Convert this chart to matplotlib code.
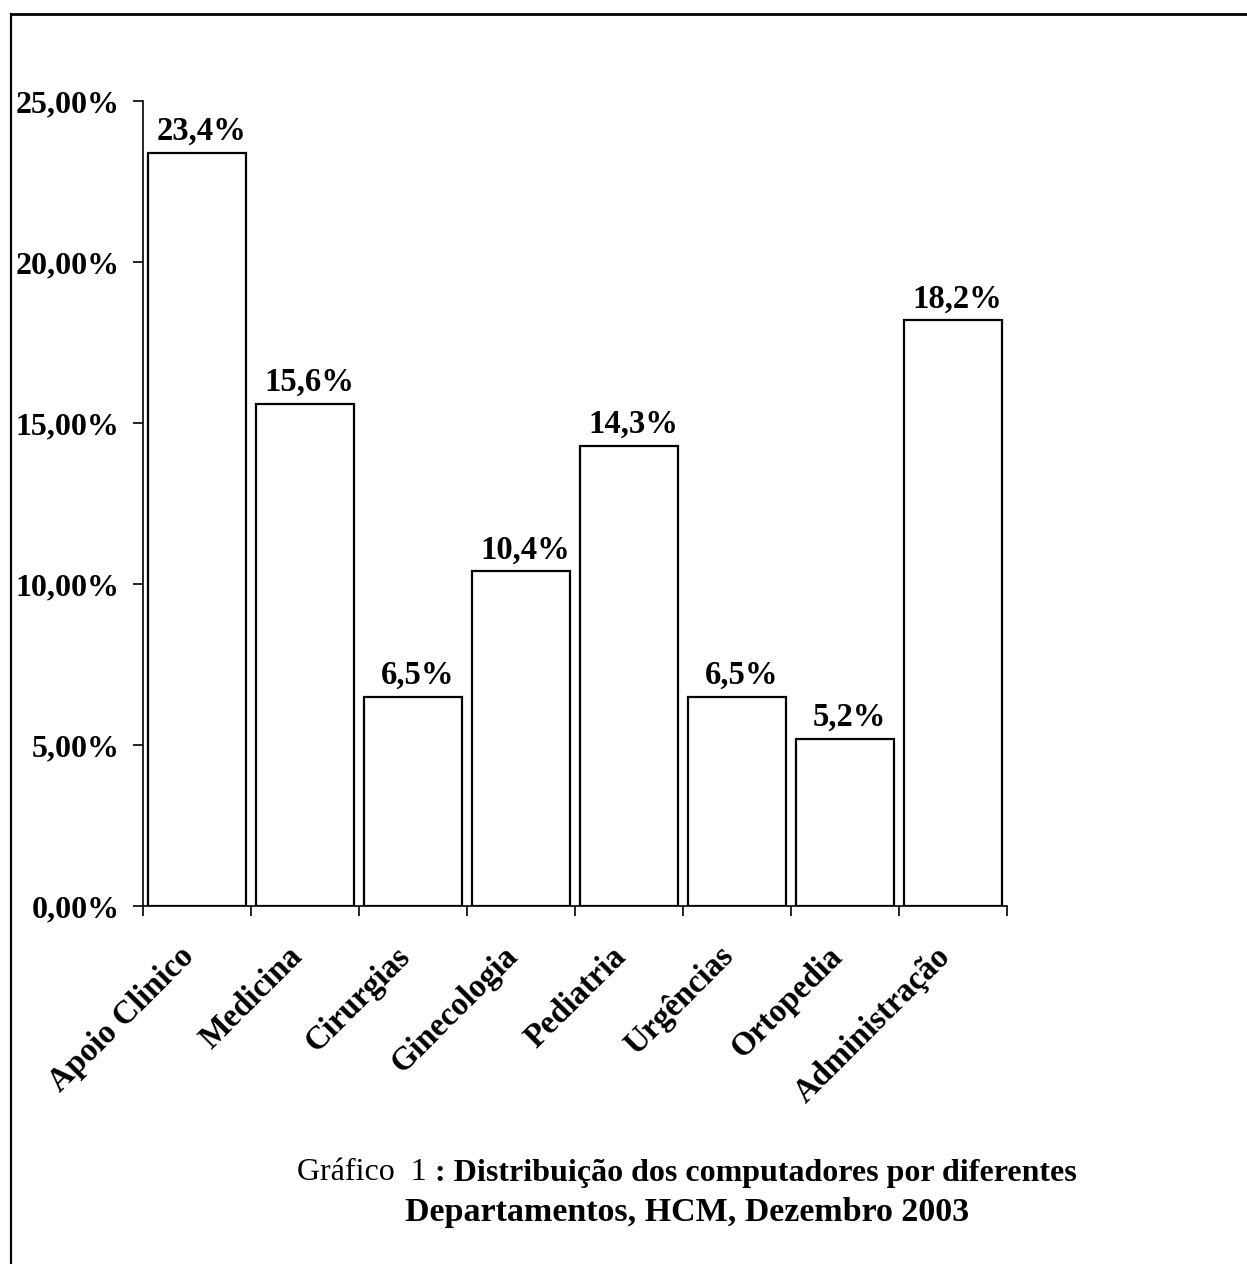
import matplotlib.pyplot as plt
from matplotlib.lines import Line2D
from matplotlib.ticker import FuncFormatter

departamentos = ["Apoio Clinico", "Medicina", "Cirurgias", "Ginecologia",
                 "Pediatria", "Urgências", "Ortopedia", "Administração"]
percentagens = [23.4, 15.6, 6.5, 10.4, 14.3, 6.5, 5.2, 18.2]
y_ticks = [0, 5, 10, 15, 20, 25]

plt.rcParams['font.family'] = ['Liberation Serif', 'DejaVu Serif']
plt.rcParams['font.weight'] = 'bold'

W, H = 1247, 1264
fig = plt.figure(figsize=(W / 100, H / 100), dpi=100)
ax = fig.add_axes([143 / W, 1 - 906 / H, (1007 - 143) / W, (906 - 101) / H])

x = range(len(departamentos))
bars = ax.bar(x, percentagens, width=0.9, color='white', edgecolor='black', linewidth=1.6)

for b, v in zip(bars, percentagens):
    ax.annotate(f"{v:.1f}%".replace('.', ','), (b.get_x() + b.get_width() / 2, v),
                xytext=(3, 4), textcoords='offset points', ha='center', va='bottom',
                fontsize=23.5, fontweight='bold')

ax.set_xlim(-0.5, len(departamentos) - 0.5)
ax.set_ylim(0, 25)
ax.set_yticks(y_ticks)
ax.yaxis.set_major_formatter(FuncFormatter(lambda v, p: f"{v:.2f}%".replace('.', ',')))

# ticks sit on the bar boundaries, names are written slanted under each bar
ax.set_xticks([i - 0.5 for i in range(len(departamentos) + 1)])
ax.set_xticklabels([])
for i, nome in zip(x, departamentos):
    ax.annotate(nome, (i, 0), xycoords=('data', 'axes fraction'),
                xytext=(-5.5, -33), textcoords='offset points',
                rotation=45, rotation_mode='anchor', ha='right', va='center',
                fontsize=23.5, fontweight='bold', annotation_clip=False)
ax.tick_params(axis='x', direction='out', length=7, width=1.2)
ax.tick_params(axis='y', direction='out', length=7, width=1.2, pad=10, labelsize=23)

for s in ['top', 'right']:
    ax.spines[s].set_visible(False)
for s in ['left', 'bottom']:
    ax.spines[s].set_linewidth(1.2)

# outer frame of the figure page
fig.add_artist(Line2D([11 / W, 11 / W], [0, 1 - 14 / H], color='black', lw=1.6,
                      transform=fig.transFigure))
fig.add_artist(Line2D([11 / W, 1], [1 - 14 / H, 1 - 14 / H], color='black', lw=2,
                      transform=fig.transFigure))

# caption: normal prefix, bold remainder, centred as one line
cx = 687 / W
y1 = 1 - 1173 / H
t1 = fig.text(0, y1, "Gráfico  1 ", fontsize=23, fontweight='normal', va='center')
t2 = fig.text(0, y1, ": Distribuição dos computadores por diferentes", fontsize=23,
              fontweight='bold', va='center')
r = fig.canvas.get_renderer()
w1 = t1.get_window_extent(r).width / W
w2 = t2.get_window_extent(r).width / W
start = cx - (w1 + w2) / 2
t1.set_x(start)
t2.set_x(start + w1)
fig.text(cx, 1 - 1213 / H, "Departamentos, HCM, Dezembro 2003", fontsize=24.5,
         fontweight='bold', ha='center', va='center')

fig.savefig('out.png', dpi=100)
